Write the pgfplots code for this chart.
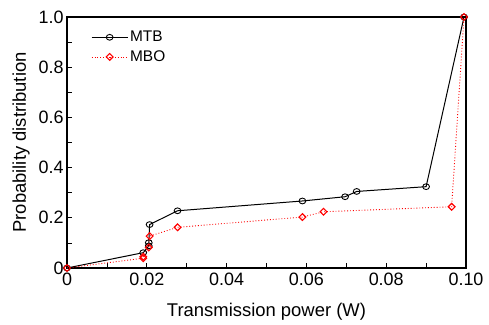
\documentclass[border=0pt]{standalone}
\usepackage{pgfplots}
\pgfplotsset{compat=1.18}
\usepackage{fontspec}
\setmainfont{Liberation Sans}
\begin{document}
\begin{tikzpicture}[x=1bp,y=1bp]
\begin{axis}[
  at={(0,0)}, anchor=south west,
  scale only axis,
  width=399bp, height=251bp,
  xmin=0, xmax=0.1, ymin=0, ymax=1,
  xtick={0,0.02,0.04,0.06,0.08,0.1},
  xticklabels={0,0.02,0.04,0.06,0.08,0.10},
  ytick={0,0.2,0.4,0.6,0.8,1},
  yticklabels={0,0.2,0.4,0.6,0.8,1.0},
  minor xtick={0.01,0.03,0.05,0.07,0.09},
  minor ytick={0.1,0.3,0.5,0.7,0.9},
  tick align=inside,
  major tick length=5bp, minor tick length=5bp,
  xtick pos=bottom, ytick pos=left,
  axis line style={line width=1.4pt},
  every tick/.style={black, line width=0.8pt},
  tick label style={font=\fontsize{18}{20}\selectfont},
  xticklabel style={yshift=-1bp},
  label style={font=\fontsize{18.5}{21}\selectfont},
  xlabel={Transmission power (W)},
  ylabel={Probability distribution},
  xlabel style={yshift=-11bp},
  ylabel style={yshift=2bp},
  legend style={draw=none, fill=none, inner sep=0pt, at={(0.06,0.952)}, anchor=north west, font=\fontsize{15.5}{18}\selectfont, row sep=3.5pt},
  legend cell align=left,
  legend image code/.code={\draw[mark repeat=2,mark phase=2,#1] plot coordinates {(0bp,0bp) (18bp,0bp) (36bp,0bp)};},
]
\addplot[black, line width=1pt, mark=o, mark size=3.4pt, mark options={solid, line width=0.9pt, yscale=0.85}]
coordinates {(0,0) (0.0191,0.061) (0.0205,0.088) (0.0205,0.101) (0.0207,0.173) (0.0277,0.228) (0.059,0.267) (0.0697,0.284) (0.0726,0.305) (0.090,0.324) (0.0995,1.0)};
\addlegendentry{MTB}
\addplot[red, dotted, line width=0.9pt, mark=square, mark size=2.4pt, mark options={solid, line width=1.1pt, rotate=45}]
coordinates {(0,0) (0.0191,0.039) (0.0191,0.045) (0.0205,0.082) (0.0207,0.127) (0.0277,0.162) (0.059,0.203) (0.0643,0.224) (0.0964,0.244) (0.0995,1.0)};
\addlegendentry{MBO}
\end{axis}
\pgfresetboundingbox
\path[use as bounding box] (-67bp,-57bp) rectangle (422bp,268bp);
\end{tikzpicture}
\end{document}
